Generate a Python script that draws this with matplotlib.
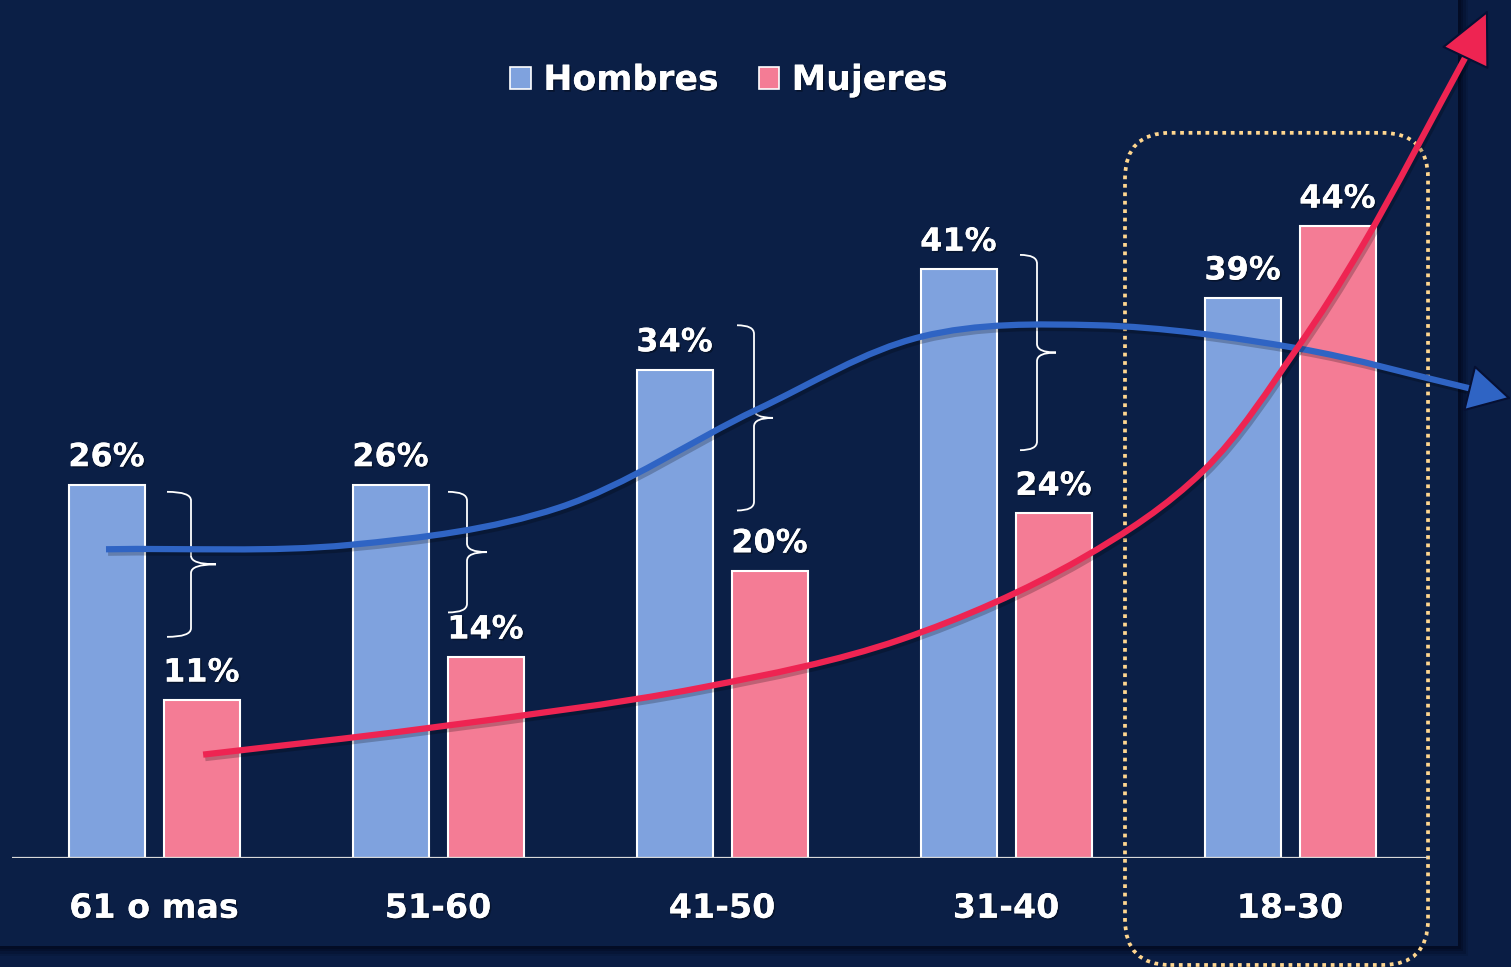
import matplotlib
matplotlib.use("Agg")
import matplotlib.pyplot as plt
import numpy as np
from matplotlib.patches import Rectangle, Patch, FancyBboxPatch, PathPatch
from matplotlib.path import Path
import matplotlib.patheffects as pe

# ---------------- data ----------------
categories = ["61 o mas", "51-60", "41-50", "31-40", "18-30"]
hombres = [26, 26, 34, 41, 39]
mujeres = [11, 14, 20, 24, 44]
series_names = ["Hombres", "Mujeres"]

# decorative trend curves (key points: group position, percent)
blue_trend_x = [-0.169, 0.687, 1.426, 2.120, 2.701, 3.320, 4.025, 4.634]
blue_trend_y = [21.5, 21.8, 24.4, 31.2, 36.3, 37.1, 35.5, 32.7]
blue_tip = (4.778, 32.0)
red_trend_x = [0.173, 0.965, 1.923, 2.627, 3.261, 3.694, 4.025, 4.257, 4.620]
red_trend_y = [7.2, 9.05, 11.85, 15.2, 20.8, 26.95, 35.5, 42.7, 55.85]
red_tip = (4.697, 59.05)

# braces between the two bars of the first four groups
brace_top = [25.5, 25.5, 37.1, 42.0]
brace_bottom = [15.4, 17.1, 24.2, 28.4]

BG = "#0B1F46"
BLUE_BAR = "#7FA2DE"
PINK_BAR = "#F47C95"
BLUE_LINE = "#2F64C4"
RED_LINE = "#EE2452"
DOT = "#FFD68F"

W, H = 15.11, 9.67
fig = plt.figure(figsize=(W, H), dpi=100)
fig.patch.set_facecolor("#0A1D44")

# panel shadow (thin dark strips on right and bottom)
for i, a in enumerate([0.15, 0.25, 0.4, 0.6]):
    d = (4 - i) * 0.025
    fig.patches.append(Rectangle((0.0, (0.21 - d) / H), (14.58 + d) / W, 1, transform=fig.transFigure,
                                 facecolor="#030A20", alpha=a, edgecolor="none", zorder=-10))
fig.patches.append(Rectangle((0, 0.21 / H), 14.58 / W, 1, transform=fig.transFigure,
                             facecolor=BG, edgecolor="none", zorder=-9))

ax = fig.add_axes([0, 109 / 967, 1, 858 / 967])
ax.set_zorder(2)
ax.set_facecolor("none")
ax.set_xlim(-154 / 284, (1511 - 154) / 284)
ax.set_ylim(0, 59.75)
ax.axis("off")

x = np.arange(len(categories))
off = 47.5 / 284
w = 76 / 284
ax.bar(x - off, hombres, w, color=BLUE_BAR, edgecolor="white", linewidth=1.5, zorder=3)
ax.bar(x + off, mujeres, w, color=PINK_BAR, edgecolor="white", linewidth=1.5, zorder=3)
ax.plot([-0.5, 4.486], [0, 0], color="#D8D8D8", lw=1.6, zorder=4, solid_capstyle="butt")

shadow = [pe.withSimplePatchShadow(offset=(1.2, -1.2), shadow_rgbFace="#000000", alpha=0.35), pe.Normal()]

for xi, h, m in zip(x, hombres, mujeres):
    ax.text(xi - off, h + 0.8, f"{h}%", ha="center", va="bottom", color="white",
            fontsize=23, fontweight="bold", zorder=6, path_effects=shadow)
    ax.text(xi + off, m + 0.8, f"{m}%", ha="center", va="bottom", color="white",
            fontsize=23, fontweight="bold", zorder=6, path_effects=shadow)

for xi, c in zip(x, categories):
    ax.text(xi, -3.5, c, ha="center", va="center", color="white", fontsize=24,
            fontweight="bold", clip_on=False, path_effects=shadow)

# braces (horizontal offsets in px from group centre: arm start, stem, tip)
brace_offsets = [(13, 37, 62), (10, 29, 49), (15, 32, 51), (14, 31, 50)]
for xi, t, b, (o0, o1, o2) in zip(x[:4], brace_top, brace_bottom, brace_offsets):
    x0, x1, x2 = xi + o0 / 284, xi + o1 / 284, xi + o2 / 284
    r = 0.6
    mid = (t + b) / 2
    verts = [(x0, t), (x1, t), (x1, t - r), (x1, mid + r), (x1, mid), (x2, mid),
             (x1, mid), (x1, mid - r), (x1, b + r), (x1, b), (x0, b)]
    codes = [Path.MOVETO, Path.CURVE3, Path.CURVE3, Path.LINETO, Path.CURVE3, Path.CURVE3,
             Path.CURVE3, Path.CURVE3, Path.LINETO, Path.CURVE3, Path.CURVE3]
    ax.add_patch(PathPatch(Path(verts, codes), facecolor="none", edgecolor="white", lw=1.3, zorder=5))


def smooth_path(xs, ys):
    """Centripetal Catmull-Rom through the key points, drawn as cubic Bezier segments."""
    pts = np.array(list(zip(xs, ys)), dtype=float)
    sx, sy = 284.0, 14.36
    P = pts * [sx, sy]
    P = np.vstack([2 * P[0] - P[1], P, 2 * P[-1] - P[-2]])
    verts = [tuple(P[1])]
    codes = [Path.MOVETO]
    for i in range(1, len(P) - 2):
        p0, p1, p2, p3 = P[i - 1], P[i], P[i + 1], P[i + 2]
        d1 = np.linalg.norm(p1 - p0) ** 0.5
        d2 = np.linalg.norm(p2 - p1) ** 0.5
        d3 = np.linalg.norm(p3 - p2) ** 0.5
        m1 = (p1 - p0) / d1 - (p2 - p0) / (d1 + d2) + (p2 - p1) / d2
        m2 = (p2 - p1) / d2 - (p3 - p1) / (d2 + d3) + (p3 - p2) / d3
        m1 *= d2
        m2 *= d2
        c1 = p1 + m1 / 3
        c2 = p2 - m2 / 3
        verts += [tuple(c1), tuple(c2), tuple(p2)]
        codes += [Path.CURVE4] * 3
    verts = np.array(verts) / [sx, sy]
    return Path(verts, codes)


line_shadow = [pe.SimpleLineShadow(offset=(1.5, -2.5), shadow_color="#000000", alpha=0.22), pe.Normal()]
ax.add_patch(PathPatch(smooth_path(blue_trend_x, blue_trend_y), facecolor="none", edgecolor=BLUE_LINE,
                       lw=4.5, zorder=7, clip_on=False, capstyle="butt", path_effects=line_shadow))
ax.add_patch(PathPatch(smooth_path(red_trend_x, red_trend_y), facecolor="none", edgecolor=RED_LINE,
                       lw=4.5, zorder=7, clip_on=False, capstyle="butt", path_effects=line_shadow))

ax.annotate("", xy=blue_tip, xytext=(blue_trend_x[-1], blue_trend_y[-1]),
            arrowprops=dict(arrowstyle="-|>,head_length=2.9,head_width=1.6", mutation_scale=10,
                            fc=BLUE_LINE, ec="#061033", lw=1.5, shrinkA=0, shrinkB=0),
            annotation_clip=False, zorder=8)
ax.annotate("", xy=red_tip, xytext=(red_trend_x[-1], red_trend_y[-1]),
            arrowprops=dict(arrowstyle="-|>,head_length=3.6,head_width=1.75", mutation_scale=10,
                            fc=RED_LINE, ec="#061033", lw=1.5, shrinkA=0, shrinkB=0),
            annotation_clip=False, zorder=8)

# dotted highlight box around last group
ax.add_patch(FancyBboxPatch((4 - 0.581, -7.45), 0.581 + 0.486, 50.5 + 7.45,
                            boxstyle="round,pad=0,rounding_size=0.16", mutation_aspect=284 / 14.36,
                            facecolor="none", edgecolor=DOT, lw=2.7, linestyle=(0, (1.0, 1.25)),
                            capstyle="butt", clip_on=False, zorder=2))

handles = [Patch(facecolor=BLUE_BAR, edgecolor="white", lw=1.2),
           Patch(facecolor=PINK_BAR, edgecolor="white", lw=1.2)]
leg = fig.legend(handles, series_names, loc="center", bbox_to_anchor=(729 / 1511, 1 - 80 / 967),
                 ncol=2, frameon=False, handlelength=0.6, handleheight=0.6, handletextpad=0.35,
                 columnspacing=1.15, prop=dict(size=25, weight="bold"))
leg.set_zorder(5)
for t in leg.get_texts():
    t.set_color("white")
    t.set_path_effects(shadow)

fig.savefig("out.png", dpi=100, facecolor=fig.get_facecolor())
